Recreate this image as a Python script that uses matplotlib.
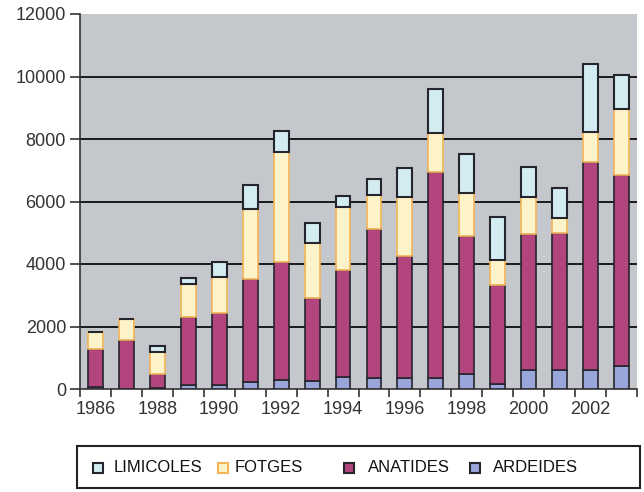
import matplotlib
matplotlib.use('Agg')
import matplotlib.pyplot as plt
from matplotlib.patches import Rectangle
import numpy as np

years = list(range(1986, 2004))
ardeides = [50, 0, 40, 120, 120, 210, 300, 250, 390, 340, 340, 360, 480, 150, 600, 600, 600, 750]
anatides = [1220, 1570, 430, 2190, 2300, 3300, 3750, 2670, 3420, 4770, 3920, 6590, 4430, 3180, 4350, 4380, 6670, 6100]
fotges = [560, 660, 710, 1060, 1150, 2250, 3540, 1760, 2000, 1100, 1900, 1250, 1350, 800, 1190, 480, 960, 2110]
limicoles = [0, 0, 200, 170, 500, 770, 660, 640, 370, 510, 900, 1400, 1260, 1390, 980, 960, 2170, 1090]

c_ard = '#9aa6d9'
c_ana = '#b3457e'
c_fot = '#fdf3c9'
c_lim = '#d3ecf1'
edge = '#25252e'
e_fot = '#f2b45a'

plt.rcParams['font.family'] = ['Liberation Sans', 'DejaVu Sans']

W, H = 644, 492
fig = plt.figure(figsize=(W / 100, H / 100), dpi=100)
ax = fig.add_axes([80 / W, 1 - 389 / H, 557 / W, 375 / H])
ax.set_facecolor('#c4c7cc')

x = np.arange(len(years))
w = 0.48
b1 = np.array(ardeides)
b2 = b1 + np.array(anatides)
b3 = b2 + np.array(fotges)

ax.bar(x, ardeides, w, color=c_ard, edgecolor=edge, linewidth=1.2, zorder=3)
ax.bar(x, anatides, w, bottom=b1, color=c_ana, edgecolor=edge, linewidth=1.2, zorder=3)
ax.bar(x, fotges, w, bottom=b2, color=c_fot, edgecolor=e_fot, linewidth=1.2, zorder=3)
ax.bar(x, limicoles, w, bottom=b3, color=c_lim, edgecolor=edge, linewidth=1.5, zorder=4)

ax.set_xlim(-0.5, len(years) - 0.5)
ax.set_ylim(0, 12000)
ax.set_yticks(range(0, 12001, 2000))
ax.set_yticklabels([str(v) for v in range(0, 12001, 2000)], fontsize=13, color='#333333')
for v in range(2000, 12000, 2000):
    ax.axhline(v, color='#1a1a1a', linewidth=1.4, zorder=1)

ax.set_xticks(x[::2])
ax.set_xticklabels([str(y) for y in years[::2]], fontsize=13, color='#333333')
ax.set_xticks(np.arange(-0.5, len(years), 1.0), minor=True)
ax.tick_params(axis='x', which='major', length=0, pad=9)
ax.tick_params(axis='x', which='minor', length=6, width=1.2, color='#333333')
ax.tick_params(axis='y', length=7, width=1.2, color='#333333', pad=3)

for s in ['top', 'right']:
    ax.spines[s].set_visible(False)
for s in ['left', 'bottom']:
    ax.spines[s].set_color('#333333')
    ax.spines[s].set_linewidth(1.2)

# legend box drawn by hand so entries sit where the original has them
fig.patches.append(Rectangle((77 / W, 1 - 488 / H), 563 / W, 42 / H, transform=fig.transFigure,
                             facecolor='white', edgecolor='#222222', linewidth=1.5))
entries = [('LIMICOLES', c_lim, edge, 93, 114),
           ('FOTGES', c_fot, e_fot, 218, 235),
           ('ANATIDES', c_ana, edge, 344, 368),
           ('ARDEIDES', c_ard, edge, 470, 493)]
for label, fc, ec, px, tx in entries:
    fig.patches.append(Rectangle((px / W, 1 - 473 / H), 10 / W, 10 / H, transform=fig.transFigure,
                                 facecolor=fc, edgecolor=ec, linewidth=1.5))
    fig.text(tx / W, 1 - 468 / H, label, fontsize=12, color='#111111',
             va='center', ha='left')

fig.savefig('out.png', dpi=100, facecolor='white')
